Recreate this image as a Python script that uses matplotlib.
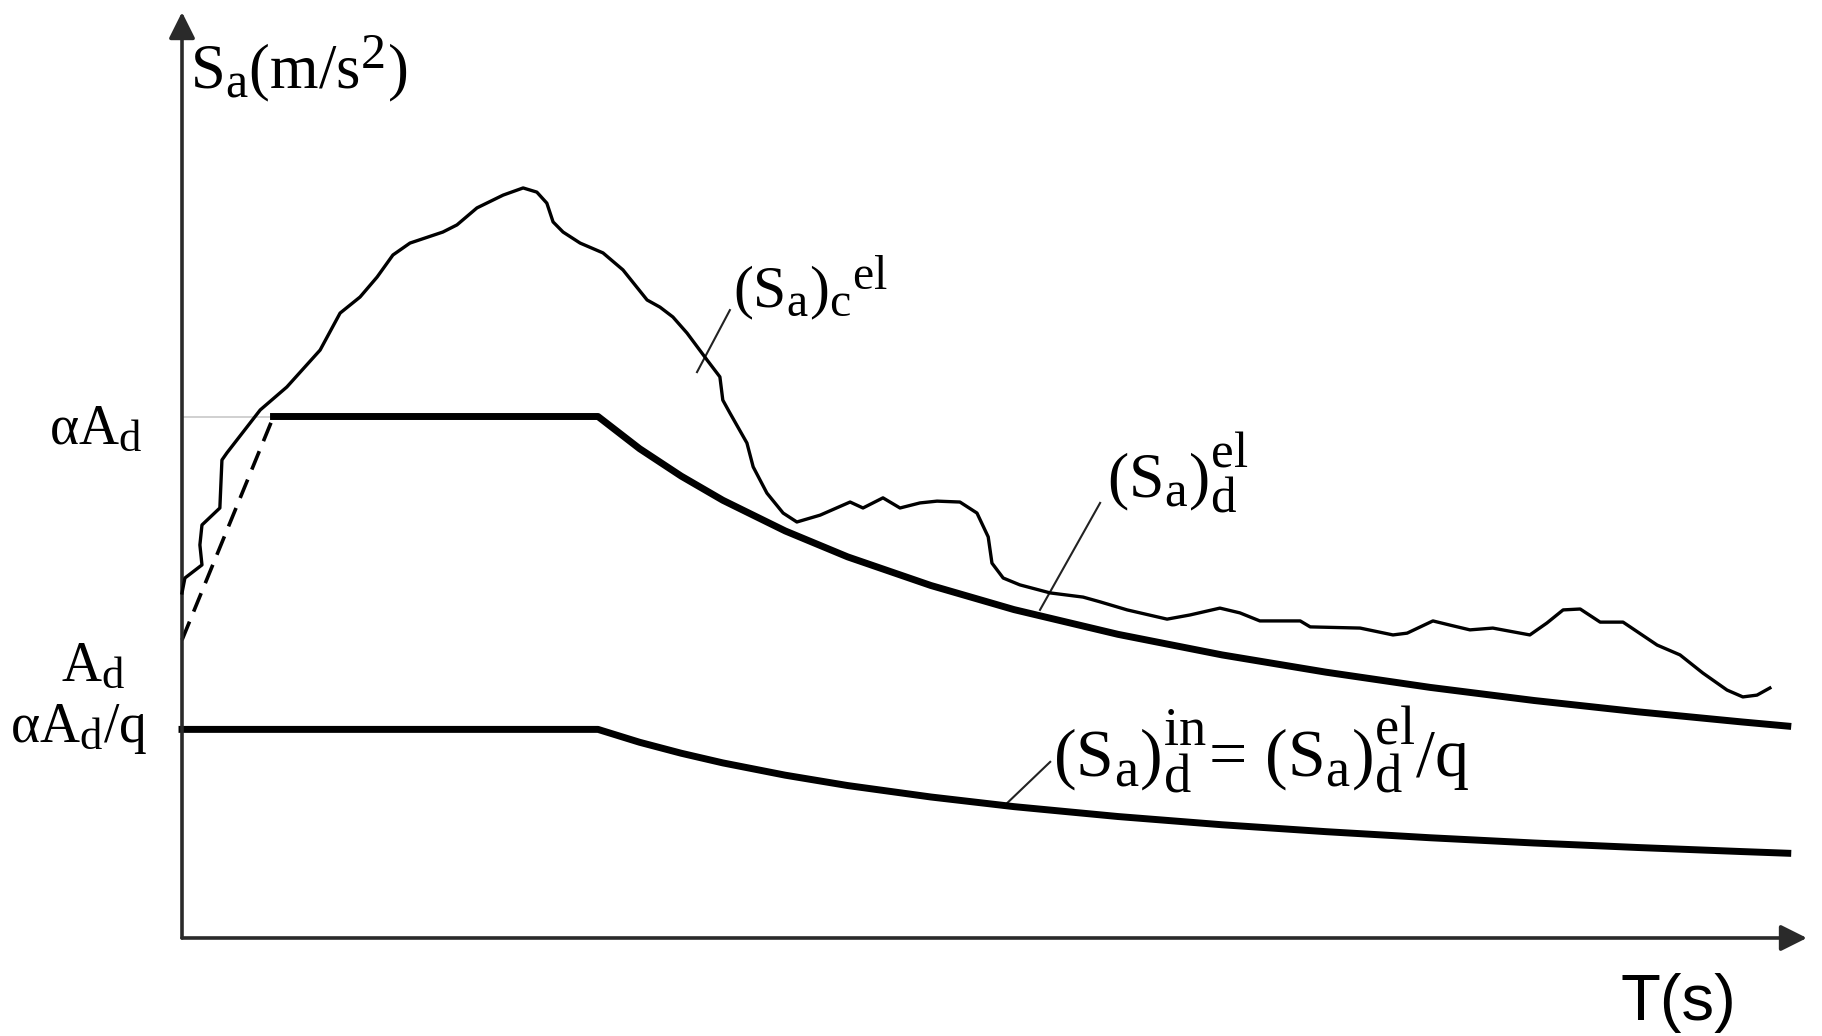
import matplotlib
matplotlib.use("Agg")
import matplotlib.pyplot as plt
import matplotlib._mathtext as mathtext_engine

plt.rcParams['mathtext.fontset'] = 'custom'
plt.rcParams['mathtext.rm'] = 'Liberation Serif'
plt.rcParams['mathtext.it'] = 'Liberation Serif:italic'
plt.rcParams['mathtext.bf'] = 'Liberation Serif:bold'
# slightly larger sub/superscripts than the mathtext default
mathtext_engine.SHRINK_FACTOR = 0.8

# design spectrum parameters (schematic units)
A_d = 1.0
alpha = 1.75
q = 2.5
T_B = 0.22
T_C = 1.0

# descending branch of the elastic design spectrum, T >= T_C
T_desc = [1.0, 1.1, 1.2, 1.3, 1.45, 1.6, 1.8, 2.0, 2.25, 2.5, 2.75, 3.0, 3.25, 3.5, 3.75, 3.86]
Sa_desc = [1.75, 1.642, 1.550, 1.469, 1.366, 1.279, 1.183, 1.102, 1.019, 0.950, 0.892,
           0.841, 0.797, 0.759, 0.725, 0.711]

# computed spectrum of a recorded accelerogram
T_rec = [0.000, 0.007, 0.048, 0.043, 0.048, 0.091, 0.096, 0.108, 0.188, 0.252, 0.332, 0.380,
         0.428, 0.469, 0.507, 0.548, 0.627, 0.661, 0.709, 0.772, 0.820, 0.853, 0.877, 0.892,
         0.916, 0.957, 1.012, 1.060, 1.118, 1.149, 1.180, 1.214, 1.262, 1.293, 1.300, 1.317,
         1.358, 1.373, 1.406, 1.445, 1.478, 1.534, 1.606, 1.637, 1.685, 1.726, 1.774, 1.815,
         1.870, 1.911, 1.938, 1.947, 1.974, 2.014, 2.087, 2.166, 2.207, 2.272, 2.368, 2.423,
         2.495, 2.543, 2.591, 2.688, 2.712, 2.832, 2.911, 2.945, 3.007, 3.048, 3.096, 3.151,
         3.240, 3.281, 3.320, 3.361, 3.409, 3.464, 3.546, 3.601, 3.656, 3.714, 3.752, 3.786,
         3.817]
Sa_rec = [1.158, 1.208, 1.252, 1.319, 1.386, 1.443, 1.604, 1.628, 1.772, 1.849, 1.973, 2.097,
          2.151, 2.218, 2.292, 2.332, 2.369, 2.393, 2.450, 2.493, 2.517, 2.503, 2.466, 2.403,
          2.369, 2.332, 2.299, 2.242, 2.141, 2.117, 2.084, 2.030, 1.940, 1.883, 1.805, 1.762,
          1.661, 1.581, 1.493, 1.426, 1.396, 1.419, 1.463, 1.443, 1.477, 1.443, 1.460, 1.466,
          1.463, 1.426, 1.346, 1.258, 1.208, 1.185, 1.158, 1.144, 1.128, 1.101, 1.070, 1.084,
          1.107, 1.091, 1.064, 1.064, 1.044, 1.040, 1.017, 1.023, 1.064, 1.050, 1.034, 1.040,
          1.017, 1.057, 1.101, 1.104, 1.060, 1.060, 0.983, 0.950, 0.889, 0.832, 0.809, 0.815,
          0.839]

T_axis_end = 3.906
Sa_axis_end = 3.107

fig = plt.figure(figsize=(18.22, 10.36), dpi=100)
ax = fig.add_axes([0, 0, 1, 1])
ax.set_xlim(-0.4375, 3.9423)
ax.set_ylim(-0.3289, 3.1477)
ax.axis('off')

plateau = alpha * A_d

# thin reference line at alpha*A_d
ax.plot([0, T_B], [plateau, plateau], color='#c8c8c8', lw=1.2, zorder=1)

# dashed rising branch
ax.plot([0, T_B], [A_d, plateau], color='black', lw=2.6, ls=(0, (5.5, 3)), zorder=2)

# elastic design spectrum
ax.plot([T_B] + T_desc, [plateau] + Sa_desc, color='black', lw=5, solid_joinstyle='round',
        zorder=3)

# inelastic design spectrum = elastic / q
ax.plot([0] + T_desc, [plateau / q] + [v / q for v in Sa_desc], color='black', lw=5,
        solid_joinstyle='round', zorder=3)

# recorded spectrum
ax.plot(T_rec, Sa_rec, color='black', lw=2.4, solid_joinstyle='round', zorder=4)

# axes with arrow heads
arrow = dict(arrowstyle='-|>,head_length=0.4,head_width=0.2', mutation_scale=40,
             lw=2.6, color='#2a2a2a', shrinkA=0, shrinkB=0)
ax.annotate('', xy=(T_axis_end, 0), xytext=(0, 0), arrowprops=arrow)
ax.annotate('', xy=(0, Sa_axis_end), xytext=(0, 0), arrowprops=arrow)

# leader lines
lead = dict(color='#222222', lw=1.5)
ax.plot([1.238, 1.317], [1.899, 2.107], **lead)
ax.plot([2.0625, 2.207], [1.101, 1.460], **lead)
ax.plot([1.974, 2.087], [0.440, 0.591], **lead)

# labels
ax.text(0.019, 2.852, r'$\mathrm{S_a(m/s^2)}$', fontsize=45, va='baseline', ha='left')
ax.text(-0.096, 1.661, r'$\mathrm{αA_d}$', fontsize=40, va='baseline', ha='right')
ax.text(-0.137, 0.866, r'$\mathrm{A_d}$', fontsize=40, va='baseline', ha='right')
ax.text(-0.084, 0.658, r'$\mathrm{αA_d/q}$', fontsize=40, va='baseline', ha='right')
ax.text(1.325, 2.114, r'$\mathrm{(S_a)_c{}^{el}}$', fontsize=43, va='baseline', ha='left')
ax.text(2.224, 1.477, r'$\mathrm{(S_a)_d^{el}}$', fontsize=46, va='baseline', ha='left')
ax.text(2.094, 0.540, r'$\mathrm{(S_a)_d^{in}\!=\,(S_a)_d^{el}/q}$', fontsize=49,
        va='baseline', ha='left')
ax.text(3.457, -0.275, 'T(s)', fontsize=47, family='Liberation Sans', va='baseline',
        ha='left')

fig.savefig('out.png', dpi=100)
